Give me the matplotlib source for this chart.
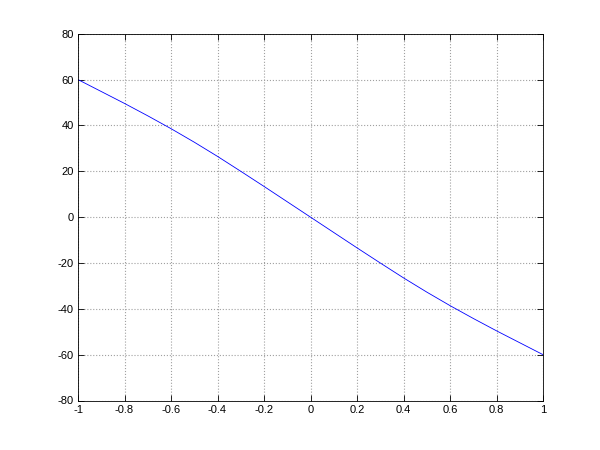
import matplotlib
matplotlib.use("Agg")
import matplotlib.pyplot as plt
import numpy as np

# values
x = [-1.0, -0.9, -0.8, -0.7, -0.6, -0.5, -0.4, -0.3, -0.2, -0.1, 0.0,
     0.1, 0.2, 0.3, 0.4, 0.5, 0.6, 0.7, 0.8, 0.9, 1.0]
y = [60.0, 54.8, 49.6, 44.2, 38.6, 32.7, 26.5, 20.0, 13.4, 6.7, 0.0,
     -6.7, -13.4, -20.0, -26.5, -32.7, -38.6, -44.2, -49.6, -54.8, -60.0]
xticks = [-1, -0.8, -0.6, -0.4, -0.2, 0, 0.2, 0.4, 0.6, 0.8, 1]
xlabels = ['-1', '-0.8', '-0.6', '-0.4', '-0.2', '0', '0.2', '0.4', '0.6', '0.8', '1']
yticks = [-80, -60, -40, -20, 0, 20, 40, 60, 80]

plt.rcParams['font.family'] = ['Liberation Sans', 'DejaVu Sans']
plt.rcParams['axes.unicode_minus'] = False

fig = plt.figure(figsize=(6, 4.5), dpi=100)
ax = fig.add_axes([0.13, 0.11, 0.775, 0.815])
ax.plot(x, y, color='#0000ff', linewidth=0.6)

ax.set_xlim(-1, 1)
ax.set_ylim(-80, 80)
ax.set_xticks(xticks)
ax.set_xticklabels(xlabels)
ax.set_yticks(yticks)
ax.grid(True, linestyle=':', color='#a0a0a0', linewidth=0.8)
ax.tick_params(direction='in', top=True, right=True, labelsize=8, length=4, width=0.6, pad=3)
for s in ax.spines.values():
    s.set_linewidth(0.6)

fig.savefig('out.png', dpi=100)
